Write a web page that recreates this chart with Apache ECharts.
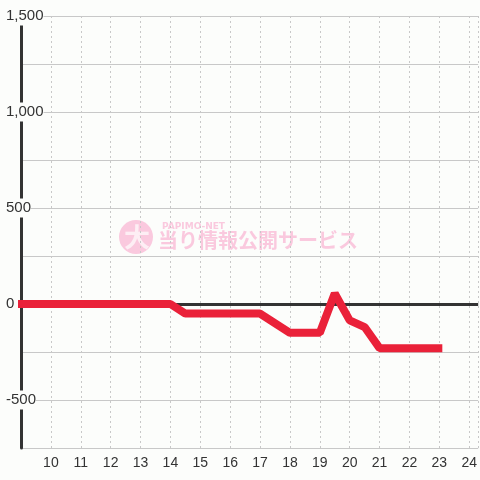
<!DOCTYPE html>
<html>
<head>
<meta charset="utf-8">
<script src="https://cdn.jsdelivr.net/npm/echarts@6/dist/echarts.min.js"></script>
<style>
  html, body { margin: 0; padding: 0; background: #fcfdfb; }
  #chart { width: 480px; height: 480px; }
</style>
</head>
<body>
<div id="chart"></div>
<script>
// time (hour) / balance pairs
var hours = [8.9, 14, 14.5, 17, 18, 19, 19.5, 20, 20.5, 21, 23.1]
var balance = [0, 0, -50, -50, -150, -150, 55, -85, -120, -230, -230]
var yTicks = [-750, 1500]
var xTicks = [9, 24.3]

var bg = '#fcfdfb'
var font = 'Liberation Sans'
var chart = echarts.init(document.getElementById('chart'))

chart.setOption({
  backgroundColor: bg,
  animation: false,
  grid: {
    top: 16,
    left: 21,
    right: 0,
    bottom: 32
  },
  xAxis: {
    type: 'value',
    min: xTicks[0],
    max: xTicks[1],
    interval: 1,
    axisLine: { show: false, onZero: false },
    axisTick: { show: false },
    axisLabel: {
      showMinLabel: false,
      showMaxLabel: false,
      color: '#333',
      fontFamily: font,
      fontSize: 14,
      margin: 8
    },
    splitLine: {
      lineStyle: {
        color: '#c8c8c8',
        type: [2, 3]
      }
    }
  },
  yAxis: {
    type: 'value',
    min: yTicks[0],
    max: yTicks[1],
    interval: 250,
    axisLine: {
      show: true,
      lineStyle: { color: '#333', width: 3 }
    },
    axisTick: { show: false },
    axisLabel: {
      color: '#333',
      fontFamily: font,
      fontSize: 15,
      align: 'left',
      margin: 15,
      backgroundColor: bg,
      padding: [4, 0, 0, 0],
      formatter: function(v) {
        if (v % 500 !== 0) return ''
        return v.toLocaleString('en-US')
      }
    },
    splitLine: {
      lineStyle: { color: '#c8c8c8', width: 1 }
    }
  },
  graphic: [{
    type: 'group',
    z: 1,
    children: [{
      type: 'circle',
      shape: { cx: 136, cy: 237, r: 17 },
      style: { fill: '#fac9de' }
    }, {
      type: 'text',
      style: {
        x: 124, y: 224, text: '大',
        font: 'bold 26px "Noto Sans CJK JP"',
        fill: '#fdeef4'
      }
    }, {
      type: 'text',
      style: {
        x: 162, y: 222, text: 'PAPIMO-NET',
        font: 'bold 9px "DejaVu Sans"',
        fill: '#fac9de'
      }
    }, {
      type: 'text',
      style: {
        x: 158, y: 230, text: '当り情報公開サービス',
        font: 'bold 20px "Noto Sans CJK JP"',
        fill: '#fac9de'
      }
    }]
  }],
  series: [{
    type: 'line',
    data: hours.map(function(h, i) { return [h, balance[i]] }),
    symbol: 'none',
    clip: false,
    z: 3,
    lineStyle: { color: '#ea2139', width: 8 },
    markLine: {
      silent: true,
      symbol: 'none',
      label: { show: false },
      lineStyle: { color: '#333', width: 3, type: 'solid' },
      data: [{ yAxis: 0 }],
      z: 2
    }
  }]
})
</script>
</body>
</html>
